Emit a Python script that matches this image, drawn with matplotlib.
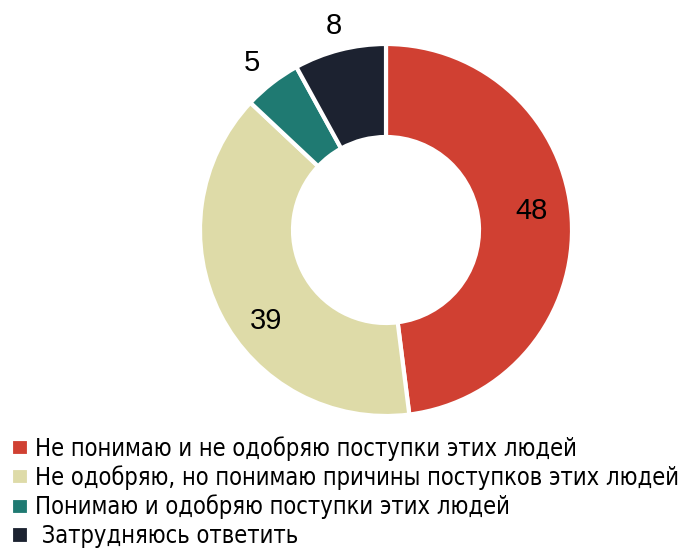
import matplotlib
matplotlib.use("Agg")
import matplotlib.pyplot as plt
import numpy as np
from matplotlib import font_manager
from matplotlib.ft2font import FT2Font

labels = ["Не понимаю и не одобряю поступки этих людей",
          "Не одобряю, но понимаю причины поступков этих людей",
          "Понимаю и одобряю поступки этих людей",
          " Затрудняюсь ответить"]
values = [48, 39, 5, 8]
colors = ["#D04032", "#DEDBA8", "#1F7A72", "#1C2230"]
label_r = [0.79, 0.81, 1.15, 1.13]
label_shift = [4, 10, 1, 0]


def has_cyrillic(path):
    try:
        ft = FT2Font(path)
        return all(ft.get_char_index(ord(c)) != 0 for c in "НПЗюд")
    except Exception:
        return False


# prefer a narrow regular font with Cyrillic for the legend if one is installed
legend_prop = font_manager.FontProperties(family="Liberation Sans")
for f in font_manager.fontManager.ttflist:
    tag = (f.name + " " + f.fname).lower()
    if ("narrow" in tag or "condensed" in tag) and f.style == "normal" \
            and f.weight in (400, "normal", "regular") and has_cyrillic(f.fname):
        legend_prop = font_manager.FontProperties(fname=f.fname)
        break

W, H = 694, 549
fig = plt.figure(figsize=(W / 100, H / 100), dpi=100)

cx, cy, R = 386, 549 - 230, 186
k = 1.3
ax = fig.add_axes([(cx - R * k) / W, (cy - R * k) / H, 2 * R * k / W, 2 * R * k / H])

wedges, _ = ax.pie(values, colors=colors, startangle=90, counterclock=False,
                   radius=1, wedgeprops=dict(width=0.5, edgecolor="white", linewidth=3))
ax.set_xlim(-k, k)
ax.set_ylim(-k, k)
ax.axis("off")

for w, v, r, s in zip(wedges, values, label_r, label_shift):
    ang = np.deg2rad((w.theta1 + w.theta2) / 2 + s)
    ax.text(r * np.cos(ang), r * np.sin(ang), str(v), ha="center", va="center",
            fontsize=21, family="Liberation Sans", color="black")

# size the legend text so the longest row spans about as wide as in the original
renderer = fig.canvas.get_renderer()
legend_prop.set_size(16)
t = fig.text(0, 0, labels[1], fontproperties=legend_prop)
w16 = t.get_window_extent(renderer).width
t.remove()
legend_prop.set_size(min(16 * 652 / w16, 24))

fig.legend(wedges, labels, loc="center left", bbox_to_anchor=(11 / W, 1 - 492 / H),
           frameon=False, prop=legend_prop,
           handlelength=0.75, handleheight=0.75, handletextpad=0.28,
           labelspacing=0.2, borderaxespad=0, borderpad=0)

fig.savefig("out.png", dpi=100)
